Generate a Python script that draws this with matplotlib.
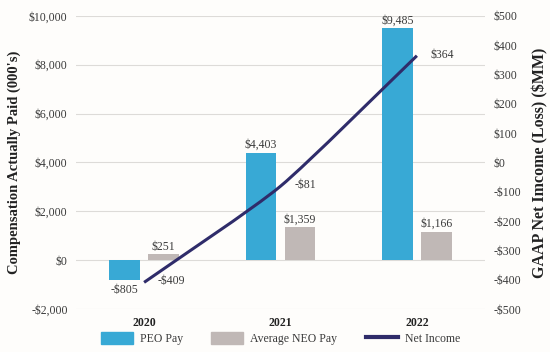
import matplotlib.pyplot as plt
from matplotlib.path import Path
from matplotlib.patches import PathPatch
from matplotlib.lines import Line2D
import numpy as np

plt.rcParams["font.family"] = ["Liberation Serif", "DejaVu Serif"]

years = ["2020", "2021", "2022"]
peo_pay = [-805, 4403, 9485]
neo_pay = [251, 1359, 1166]
net_income = [-409, -81, 364]

peo_labels = ["-$805", "$4,403", "$9,485"]
neo_labels = ["$251", "$1,359", "$1,166"]
ni_labels = ["-$409", "-$81", "$364"]

left_ticks = [-2000, 0, 2000, 4000, 6000, 8000, 10000]
right_ticks = [-500, -400, -300, -200, -100, 0, 100, 200, 300, 400, 500]

blue = "#38A9D5"
grey = "#C0B8B6"
navy = "#2F2C6A"
bg = "#FEFDFB"
txt = "#3A3A3A"


def money(v):
    return ("-$" if v < 0 else "$") + f"{abs(v):,}"


fig = plt.figure(figsize=(5.5, 3.52), dpi=100, facecolor=bg)
ax = fig.add_axes([0.138, 0.122, 0.744, 0.833], facecolor=bg)
ax2 = ax.twinx()

x = np.arange(len(years))
w = 0.225
off = 0.143
ax.bar(x - off, peo_pay, w, color=blue, zorder=2)
ax.bar(x + off, neo_pay, w, color=grey, zorder=2)

for xi, v, lab in zip(x, peo_pay, peo_labels):
    if v < 0:
        ax.text(xi - off, v - 180, lab, ha="center", va="top", fontsize=8.5, color=txt)
    else:
        ax.text(xi - off, v + 60, lab, ha="center", va="bottom", fontsize=8.5, color=txt)
for xi, v, lab in zip(x, neo_pay, neo_labels):
    ax.text(xi + off, v + 60, lab, ha="center", va="bottom", fontsize=8.5, color=txt)

ax.set_xlim(-0.5, 2.5)
ax.set_ylim(-2000, 10000)
ax.set_yticks(left_ticks)
ax.set_yticklabels([money(t) for t in left_ticks], fontsize=8.5, color=txt)
ax.set_xticks(x)
ax.set_xticklabels(years, fontsize=8.5, fontweight="bold", color="#222222")
ax.tick_params(length=0, pad=6)
ax.grid(axis="y", color="#DDDBD8", lw=0.8, zorder=0)
ax.set_ylabel("Compensation Actually Paid (000's)", fontsize=10.5, fontweight="bold", color="#222222", labelpad=6)

# slightly smoothed net income curve (cubic Bezier through the points)
ax2.set_ylim(-500, 500)
pts = np.column_stack([x, net_income]).astype(float)
ext = np.vstack([2 * pts[0] - pts[1], pts, 2 * pts[-1] - pts[-2]])
tension = 0.1
verts = [tuple(pts[0])]
codes = [Path.MOVETO]
for i in range(1, len(ext) - 2):
    p0, p1, p2, p3 = ext[i - 1], ext[i], ext[i + 1], ext[i + 2]
    c1 = p1 + (p2 - p0) * tension
    c2 = p2 - (p3 - p1) * tension
    verts += [tuple(c1), tuple(c2), tuple(p2)]
    codes += [Path.CURVE4] * 3
ax2.add_patch(PathPatch(Path(verts, codes), fill=False, edgecolor=navy, lw=2.2, zorder=3))

for xi, v, lab in zip(x, net_income, ni_labels):
    ax2.text(xi + 0.1, v + 3, lab, ha="left", va="center", fontsize=8.5, color=txt)

ax2.set_yticks(right_ticks)
ax2.set_yticklabels([money(t) for t in right_ticks], fontsize=8.5, color=txt)
ax2.tick_params(length=0, pad=6)
ax2.set_ylabel("GAAP Net Imcome (Loss) ($MM)", fontsize=11.5, fontweight="bold", color="#222222", labelpad=8)

for a in (ax, ax2):
    for s in a.spines.values():
        s.set_visible(False)

handles = [
    plt.Rectangle((0, 0), 1, 1, color=blue),
    plt.Rectangle((0, 0), 1, 1, color=grey),
    Line2D([0], [0], color=navy, lw=3),
]
fig.legend(handles, ["PEO Pay", "Average NEO Pay", "Net Income"], loc="lower center",
           bbox_to_anchor=(0.51, -0.01), ncol=3, frameon=False, fontsize=8.5,
           handlelength=2.7, handleheight=1.3, handletextpad=0.6, columnspacing=2.4,
           labelcolor=txt)

fig.savefig("out.png", dpi=100, facecolor=bg)
